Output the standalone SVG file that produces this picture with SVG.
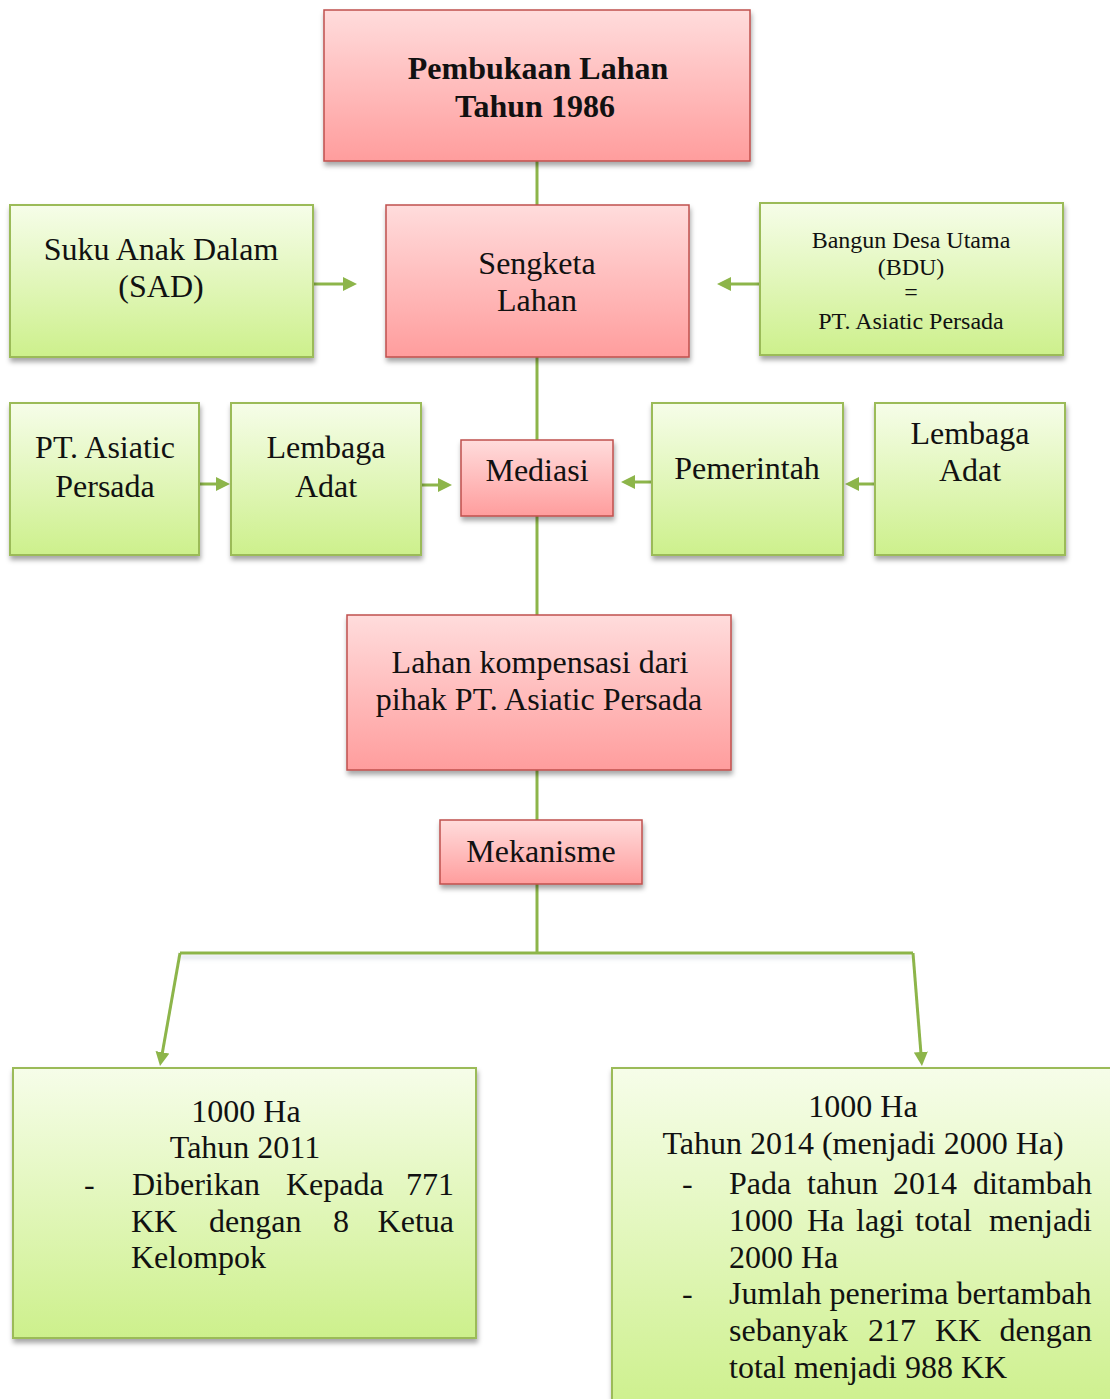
<svg xmlns="http://www.w3.org/2000/svg" width="1110" height="1399" viewBox="0 0 1110 1399">
<defs>
<linearGradient id="pink" x1="0" y1="0" x2="0" y2="1">
<stop offset="0" stop-color="#ffdcdc"/>
<stop offset="1" stop-color="#ff9d9d"/>
</linearGradient>
<linearGradient id="green" x1="0" y1="0" x2="0" y2="1">
<stop offset="0" stop-color="#f6fde9"/>
<stop offset="1" stop-color="#cdf08c"/>
</linearGradient>
<filter id="sh" x="-10%" y="-10%" width="125%" height="130%">
<feDropShadow dx="1" dy="4" stdDeviation="2.5" flood-color="#000" flood-opacity="0.35"/>
</filter>
<filter id="lsh" filterUnits="userSpaceOnUse" x="100" y="920" width="900" height="70">
<feDropShadow dx="0" dy="4" stdDeviation="2" flood-color="#7a8aa8" flood-opacity="0.3"/>
</filter>
<marker id="arr" viewBox="0 0 14 14" refX="2" refY="7" markerWidth="14" markerHeight="14" markerUnits="userSpaceOnUse" orient="auto">
<path d="M0,0 L14,7 L0,14 z" fill="#8db54a"/>
</marker>
</defs>
<style>
.p{fill:url(#pink);stroke:#c0504d;stroke-width:1.5;filter:url(#sh)}
.g{fill:url(#green);stroke:#9bbb59;stroke-width:2;filter:url(#sh)}
.t{font-family:"Liberation Serif","Times New Roman",serif;font-size:32px;fill:#111}
.c{text-anchor:middle}
.e{text-anchor:end}
.b{font-weight:bold}
.s{font-size:24px}
.ln{fill:none;stroke:#8db54a;stroke-width:3}
</style>
<rect width="1110" height="1399" fill="#fff"/>
<g id="connectors">
<line class="ln" x1="537" y1="161" x2="537" y2="205"/>
<line class="ln" x1="537" y1="357" x2="537" y2="440"/>
<line class="ln" x1="537" y1="516" x2="537" y2="615"/>
<line class="ln" x1="537" y1="770" x2="537" y2="820"/>
<line class="ln" x1="537" y1="884" x2="537" y2="953"/>
<line class="ln" x1="313" y1="284" x2="345" y2="284" marker-end="url(#arr)"/>
<line class="ln" x1="760" y1="284" x2="729" y2="284" marker-end="url(#arr)"/>
<line class="ln" x1="199" y1="484" x2="218" y2="484" marker-end="url(#arr)"/>
<line class="ln" x1="421" y1="485" x2="440" y2="485" marker-end="url(#arr)"/>
<line class="ln" x1="652" y1="482" x2="633" y2="482" marker-end="url(#arr)"/>
<line class="ln" x1="875" y1="484" x2="857" y2="484" marker-end="url(#arr)"/>
<path class="ln" d="M180,953 L913,953" filter="url(#lsh)"/>
<path class="ln" d="M180,953 L162.1,1054.2" marker-end="url(#arr)"/>
<path class="ln" d="M913,953 L921,1054" marker-end="url(#arr)"/>
</g>
<g id="n-pembukaan">
<rect class="p" x="324" y="10" width="426" height="151"/>
<text class="t c b" x="538" y="79">Pembukaan Lahan</text>
<text class="t c b" x="535" y="117">Tahun 1986</text>
</g>
<g id="n-sad">
<rect class="g" x="10" y="205" width="303" height="152"/>
<text class="t c" x="161" y="260">Suku Anak Dalam</text>
<text class="t c" x="161" y="297">(SAD)</text>
</g>
<g id="n-sengketa">
<rect class="p" x="386" y="205" width="303" height="152"/>
<text class="t c" x="537" y="274">Sengketa</text>
<text class="t c" x="537" y="311">Lahan</text>
</g>
<g id="n-bdu">
<rect class="g" x="760" y="203" width="303" height="152"/>
<text class="t c s" x="911" y="248">Bangun Desa Utama</text>
<text class="t c s" x="911" y="275">(BDU)</text>
<text class="t c s" x="911" y="300">=</text>
<text class="t c s" x="911" y="329">PT. Asiatic Persada</text>
</g>
<g id="n-pt">
<rect class="g" x="10" y="403" width="189" height="152"/>
<text class="t c" x="105" y="458">PT. Asiatic</text>
<text class="t c" x="105" y="497">Persada</text>
</g>
<g id="n-lembaga-kiri">
<rect class="g" x="231" y="403" width="190" height="152"/>
<text class="t c" x="326" y="458">Lembaga</text>
<text class="t c" x="326" y="497">Adat</text>
</g>
<g id="n-mediasi">
<rect class="p" x="461" y="440" width="152" height="76"/>
<text class="t c" x="537" y="481">Mediasi</text>
</g>
<g id="n-pemerintah">
<rect class="g" x="652" y="403" width="191" height="152"/>
<text class="t c" x="747" y="479">Pemerintah</text>
</g>
<g id="n-lembaga-kanan">
<rect class="g" x="875" y="403" width="190" height="152"/>
<text class="t c" x="970" y="444">Lembaga</text>
<text class="t c" x="970" y="481">Adat</text>
</g>
<g id="n-lahan">
<rect class="p" x="347" y="615" width="384" height="155"/>
<text class="t c" x="540" y="673">Lahan kompensasi dari</text>
<text class="t c" x="539" y="710">pihak PT. Asiatic Persada</text>
</g>
<g id="n-mekanisme">
<rect class="p" x="440" y="820" width="202" height="64"/>
<text class="t c" x="541" y="862">Mekanisme</text>
</g>
<g id="n-2011">
<rect class="g" x="13" y="1068" width="463" height="270"/>
<text class="t c" x="246" y="1122">1000 Ha</text>
<text class="t c" x="245" y="1158">Tahun 2011</text>
<text class="t" x="84" y="1195">-</text>
<text class="t" x="132" y="1195">Diberikan</text>
<text class="t" x="286" y="1195">Kepada</text>
<text class="t e" x="454" y="1195">771</text>
<text class="t" x="131" y="1232">KK</text>
<text class="t" x="209" y="1232">dengan</text>
<text class="t" x="333" y="1232">8</text>
<text class="t e" x="454" y="1232">Ketua</text>
<text class="t" x="131" y="1268">Kelompok</text>
</g>
<g id="n-2014">
<rect class="g" x="612" y="1068" width="510" height="345"/>
<text class="t c" x="863" y="1117">1000 Ha</text>
<text class="t c" x="863" y="1154">Tahun 2014 (menjadi 2000 Ha)</text>
<text class="t" x="682" y="1194">-</text>
<text class="t" x="729" y="1194">Pada</text>
<text class="t" x="807" y="1194">tahun</text>
<text class="t" x="893" y="1194">2014</text>
<text class="t e" x="1092" y="1194">ditambah</text>
<text class="t" x="729" y="1231">1000</text>
<text class="t" x="807" y="1231">Ha</text>
<text class="t" x="856" y="1231">lagi</text>
<text class="t" x="915" y="1231">total</text>
<text class="t e" x="1092" y="1231">menjadi</text>
<text class="t" x="729" y="1268">2000 Ha</text>
<text class="t" x="682" y="1304">-</text>
<text class="t" x="729" y="1304">Jumlah penerima bertambah</text>
<text class="t" x="729" y="1341">sebanyak</text>
<text class="t" x="868" y="1341">217</text>
<text class="t" x="935" y="1341">KK</text>
<text class="t e" x="1092" y="1341">dengan</text>
<text class="t" x="729" y="1378">total menjadi 988 KK</text>
</g>
</svg>
